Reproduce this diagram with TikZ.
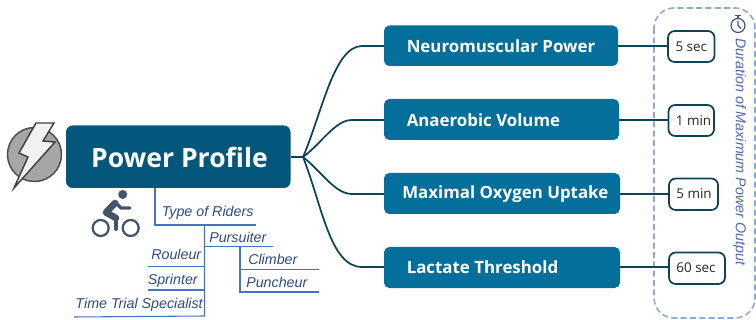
\documentclass[tikz,border=0pt]{standalone}
\usepackage{fontspec}
\setmainfont{Open Sans}
\newfontfamily\rideritalic{Liberation Sans}
\definecolor{rootfill}{HTML}{04567B}
\definecolor{mainfill}{HTML}{046F9B}
\definecolor{linecol}{HTML}{0E4257}
\definecolor{treeblue}{HTML}{4472C4}
\definecolor{treetext}{HTML}{2F4A85}
\definecolor{dashcol}{HTML}{8EA6D8}
\definecolor{bikecol}{HTML}{44546A}
\definecolor{dtext}{HTML}{5068B0}
\tikzset{
 rootbox/.style={fill=rootfill,rounded corners=5pt},
 mainbox/.style={fill=mainfill,rounded corners=4pt},
 timebox/.style={draw=linecol,line width=1.3pt,fill=white,rounded corners=5pt},
 conn/.style={draw=linecol,line width=1.3pt},
 tree/.style={draw=treeblue,line width=.8pt},
 ridertext/.style={text=treetext,font=\rideritalic\itshape\fontsize{10.7}{12}\selectfont,inner sep=0pt},
 mtext/.style={text=white,font=\bfseries\fontsize{12.65}{14}\selectfont,inner sep=0pt,anchor=west},
 ttext/.style={font=\fontsize{10.1}{11}\selectfont,text=black!85,inner sep=0pt},
}
\begin{document}
\begin{tikzpicture}[x=.75pt,y=-.75pt]
\useasboundingbox (0,0) rectangle (756,320);
% dashed frame
\draw[dashcol,line width=1.2pt,dash pattern=on 4.5pt off 2.5pt,rounded corners=15pt] (654,8) rectangle (755,318);
\coordinate (hub) at (303,157);
% root
\path[rootbox] (66,125.5) rectangle (290.5,188);
\node[font=\bfseries\fontsize{19.9}{24}\selectfont,text=white,inner sep=0pt,anchor=center] (root) at (179.5,157) {Power Profile};
\coordinate (rootR) at (290.5,157);
% mains
\path[mainbox] (384,25.5) rectangle (618,66);
\path[mainbox] (384,99) rectangle (619,140);
\path[mainbox] (384,173) rectangle (620,214);
\path[mainbox] (384,247) rectangle (620,288);
\node[mtext] (n1) at (406.5,46.5) {Neuromuscular Power};
\node[mtext] (n2) at (406.5,120.5) {Anaerobic Volume};
\node[mtext] (n3) at (402,194.5) {Maximal Oxygen Uptake};
\node[mtext] (n4) at (406.5,267.5) {Lactate Threshold};
\coordinate (b1L) at (384,46); \coordinate (b2L) at (384,120); \coordinate (b3L) at (384,194); \coordinate (b4L) at (384,267);
\coordinate (b1R) at (618,46); \coordinate (b2R) at (619,120); \coordinate (b3R) at (620,194); \coordinate (b4R) at (620,267);
% time boxes
\path[timebox] (668,31) rectangle (714.5,62);
\path[timebox] (668.5,105) rectangle (714,136);
\path[timebox] (669,178.5) rectangle (718,210);
\path[timebox] (669,252.5) rectangle (725,284);
\node[ttext] (t1) at (691.3,46.5) {5 sec};
\node[ttext] (t2) at (693.5,120.5) {1 min};
\node[ttext] (t3) at (694,194) {5 min};
\node[ttext] (t4) at (696,268) {60 sec};
\coordinate (t1L) at (668,46); \coordinate (t2L) at (668.5,120); \coordinate (t3L) at (669,194); \coordinate (t4L) at (669,267);
% connectors
\draw[conn] (rootR) -- (hub);
\draw[conn] (hub) .. controls (322,113) and (334,46) .. (362,46) -- (b1L);
\draw[conn] (hub) .. controls (322,143) and (335,120) .. (352,120) -- (b2L);
\draw[conn] (hub) .. controls (322,172) and (335,194) .. (352,194) -- (b3L);
\draw[conn] (hub) .. controls (322,205) and (330,267) .. (362,267) -- (b4L);
\draw[conn] (b1R) -- (t1L);
\draw[conn] (b2R) -- (t2L);
\draw[conn] (b3R) -- (t3L);
\draw[conn] (b4R) -- (t4L);
% tree
\draw[tree] (155,188) |- (256,225);
\draw[tree] (204.5,225) -- (204.5,316) -- (74,317);
\draw[tree] (204.5,246.5) -- (272.5,246.5);
\draw[tree] (240,246.5) |- (318.5,292);
\draw[tree] (240,269.5) -- (319,269.5);
\draw[tree] (148,266.5) -- (204.5,266.5);
\draw[tree] (148,290) -- (205,290);
\node[ridertext,anchor=west] (r1) at (161.5,212.5) {Type of Riders};
\node[ridertext,anchor=west] (r2) at (209,237) {Pursuiter};
\node[ridertext,anchor=east] (r3) at (201.5,254) {Rouleur};
\node[ridertext,anchor=east] (r4) at (198,281) {Sprinter};
\node[ridertext,anchor=east] (r5) at (203,305) {Time Trial Specialist};
\node[ridertext,anchor=west] (r6) at (248,259.5) {Climber};
\node[ridertext,anchor=west] (r7) at (246,282) {Puncheur};
% duration text
\node[rotate=-90,text=dtext,font=\rideritalic\itshape\fontsize{10.7}{12}\selectfont,inner sep=0pt,anchor=west] (dur) at (739.5,38) {Duration of Maximum Power Output};
% lightning icon
\fill[black!35,draw=black!70,line width=1.1pt] (34.5,154.5) circle (27);
\draw[fill=white!95!black,draw=black!75,line width=1.1pt,line join=miter]
  (36,123) -- (54,123) -- (43,141) -- (55,142) -- (14,188) -- (28,157) -- (19,153) -- cycle;
% bicycle
\draw[bikecol,line width=1.7pt] (100.7,228) circle (8);
\draw[bikecol,line width=1.7pt] (130.7,228) circle (8);
\fill[bikecol] (122.7,194.5) circle (4.5);
\draw[bikecol,line width=5pt,line cap=round,line join=round] (115,203) -- (106,212.5) -- (116,218);
\draw[bikecol,line width=2.5pt,line cap=round,line join=round] (116,203) -- (121,208) -- (130,208);
\draw[bikecol,line width=3pt,line cap=round,line join=round] (116,218) -- (116,229);
% clock
\draw[dtext!80!black,line width=.9pt] (738,25.5) circle (7);
\draw[dtext!80!black,line width=.9pt] (738,21) -- (738,25.5) -- (741,28.5);
\draw[dtext!80!black,line width=1pt] (735,15.5) -- (741,15.5);
\draw[dtext!80!black,line width=1pt] (738,15.5) -- (738,18.5);
\end{tikzpicture}
\end{document}
